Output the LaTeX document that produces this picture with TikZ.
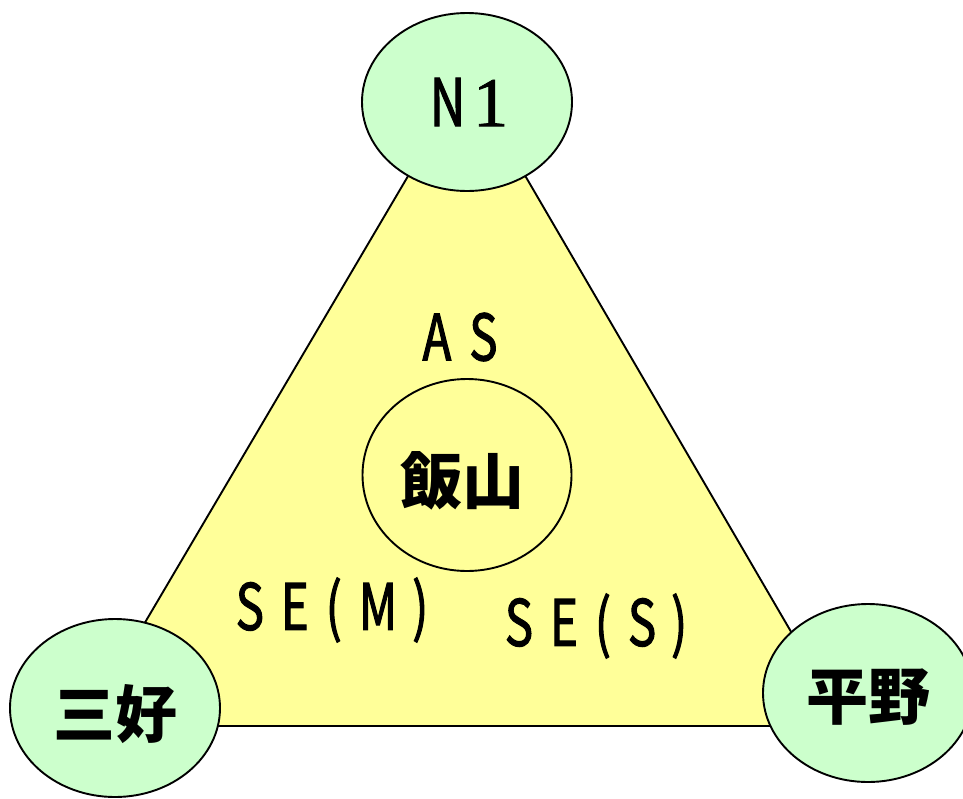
\documentclass[tikz,border=0pt]{standalone}
\usepackage{fontspec}
\usetikzlibrary{shapes.geometric}
\newfontfamily\jp{Noto Sans CJK JP}
\newfontfamily\lat[FakeStretch=0.74,FakeBold=1.6]{Noto Sans CJK JP}
\newfontfamily\ser[FakeBold=1.2]{Liberation Serif}
\definecolor{triyellow}{HTML}{FFFF99}
\definecolor{nodegreen}{HTML}{CCFFCC}
\begin{document}
\begin{tikzpicture}[x=1pt,y=-1pt,
  outerell/.style={ellipse,draw=black,line width=1.9pt,fill=nodegreen,minimum width=210pt,minimum height=178pt,inner sep=0pt},
  innerell/.style={ellipse,draw=black,line width=1.9pt,minimum width=209pt,minimum height=192pt,inner sep=0pt},
  jplabel/.style={font=\jp\bfseries\fontsize{62}{62}\selectfont,inner sep=0pt},
  latlabel/.style={font=\lat\fontsize{64}{64}\selectfont,inner sep=0pt}]
\useasboundingbox (0,0) rectangle (963,798);
\coordinate (t) at (467,76);
\coordinate (bl) at (84,726);
\coordinate (br) at (846,726);
\draw[line width=1.9pt,fill=triyellow,line join=miter] (t) -- (bl) -- (br) -- cycle;
\node[innerell] (iiyama) at (467,475) {};
\node[jplabel] (iiyamat) at (462,481) {飯山};
\node[outerell] (n1) at (467,102) {};
\node[inner sep=0pt] (n1t) at (469,102) {{\lat\fontsize{66}{66}\selectfont N}\hspace{8pt}{\ser\fontsize{70}{70}\selectfont 1}};
\node[outerell] (miyoshi) at (115,708) {};
\node[jplabel] (miyoshit) at (115,714) {三好};
\node[outerell] (hirano) at (868,693) {};
\node[jplabel] (hiranot) at (868,697) {平野};
\node[latlabel] (as) at (460,337) {A\hspace{18pt}S};
\node[latlabel] (sem) at (332,610) {S\hspace{17pt}E\hspace{17pt}(\hspace{17pt}M\hspace{15pt})};
\node[latlabel] (ses) at (596,626) {S\hspace{17pt}E\hspace{17pt}(\hspace{17pt}S\hspace{15pt})};
\end{tikzpicture}
\end{document}
